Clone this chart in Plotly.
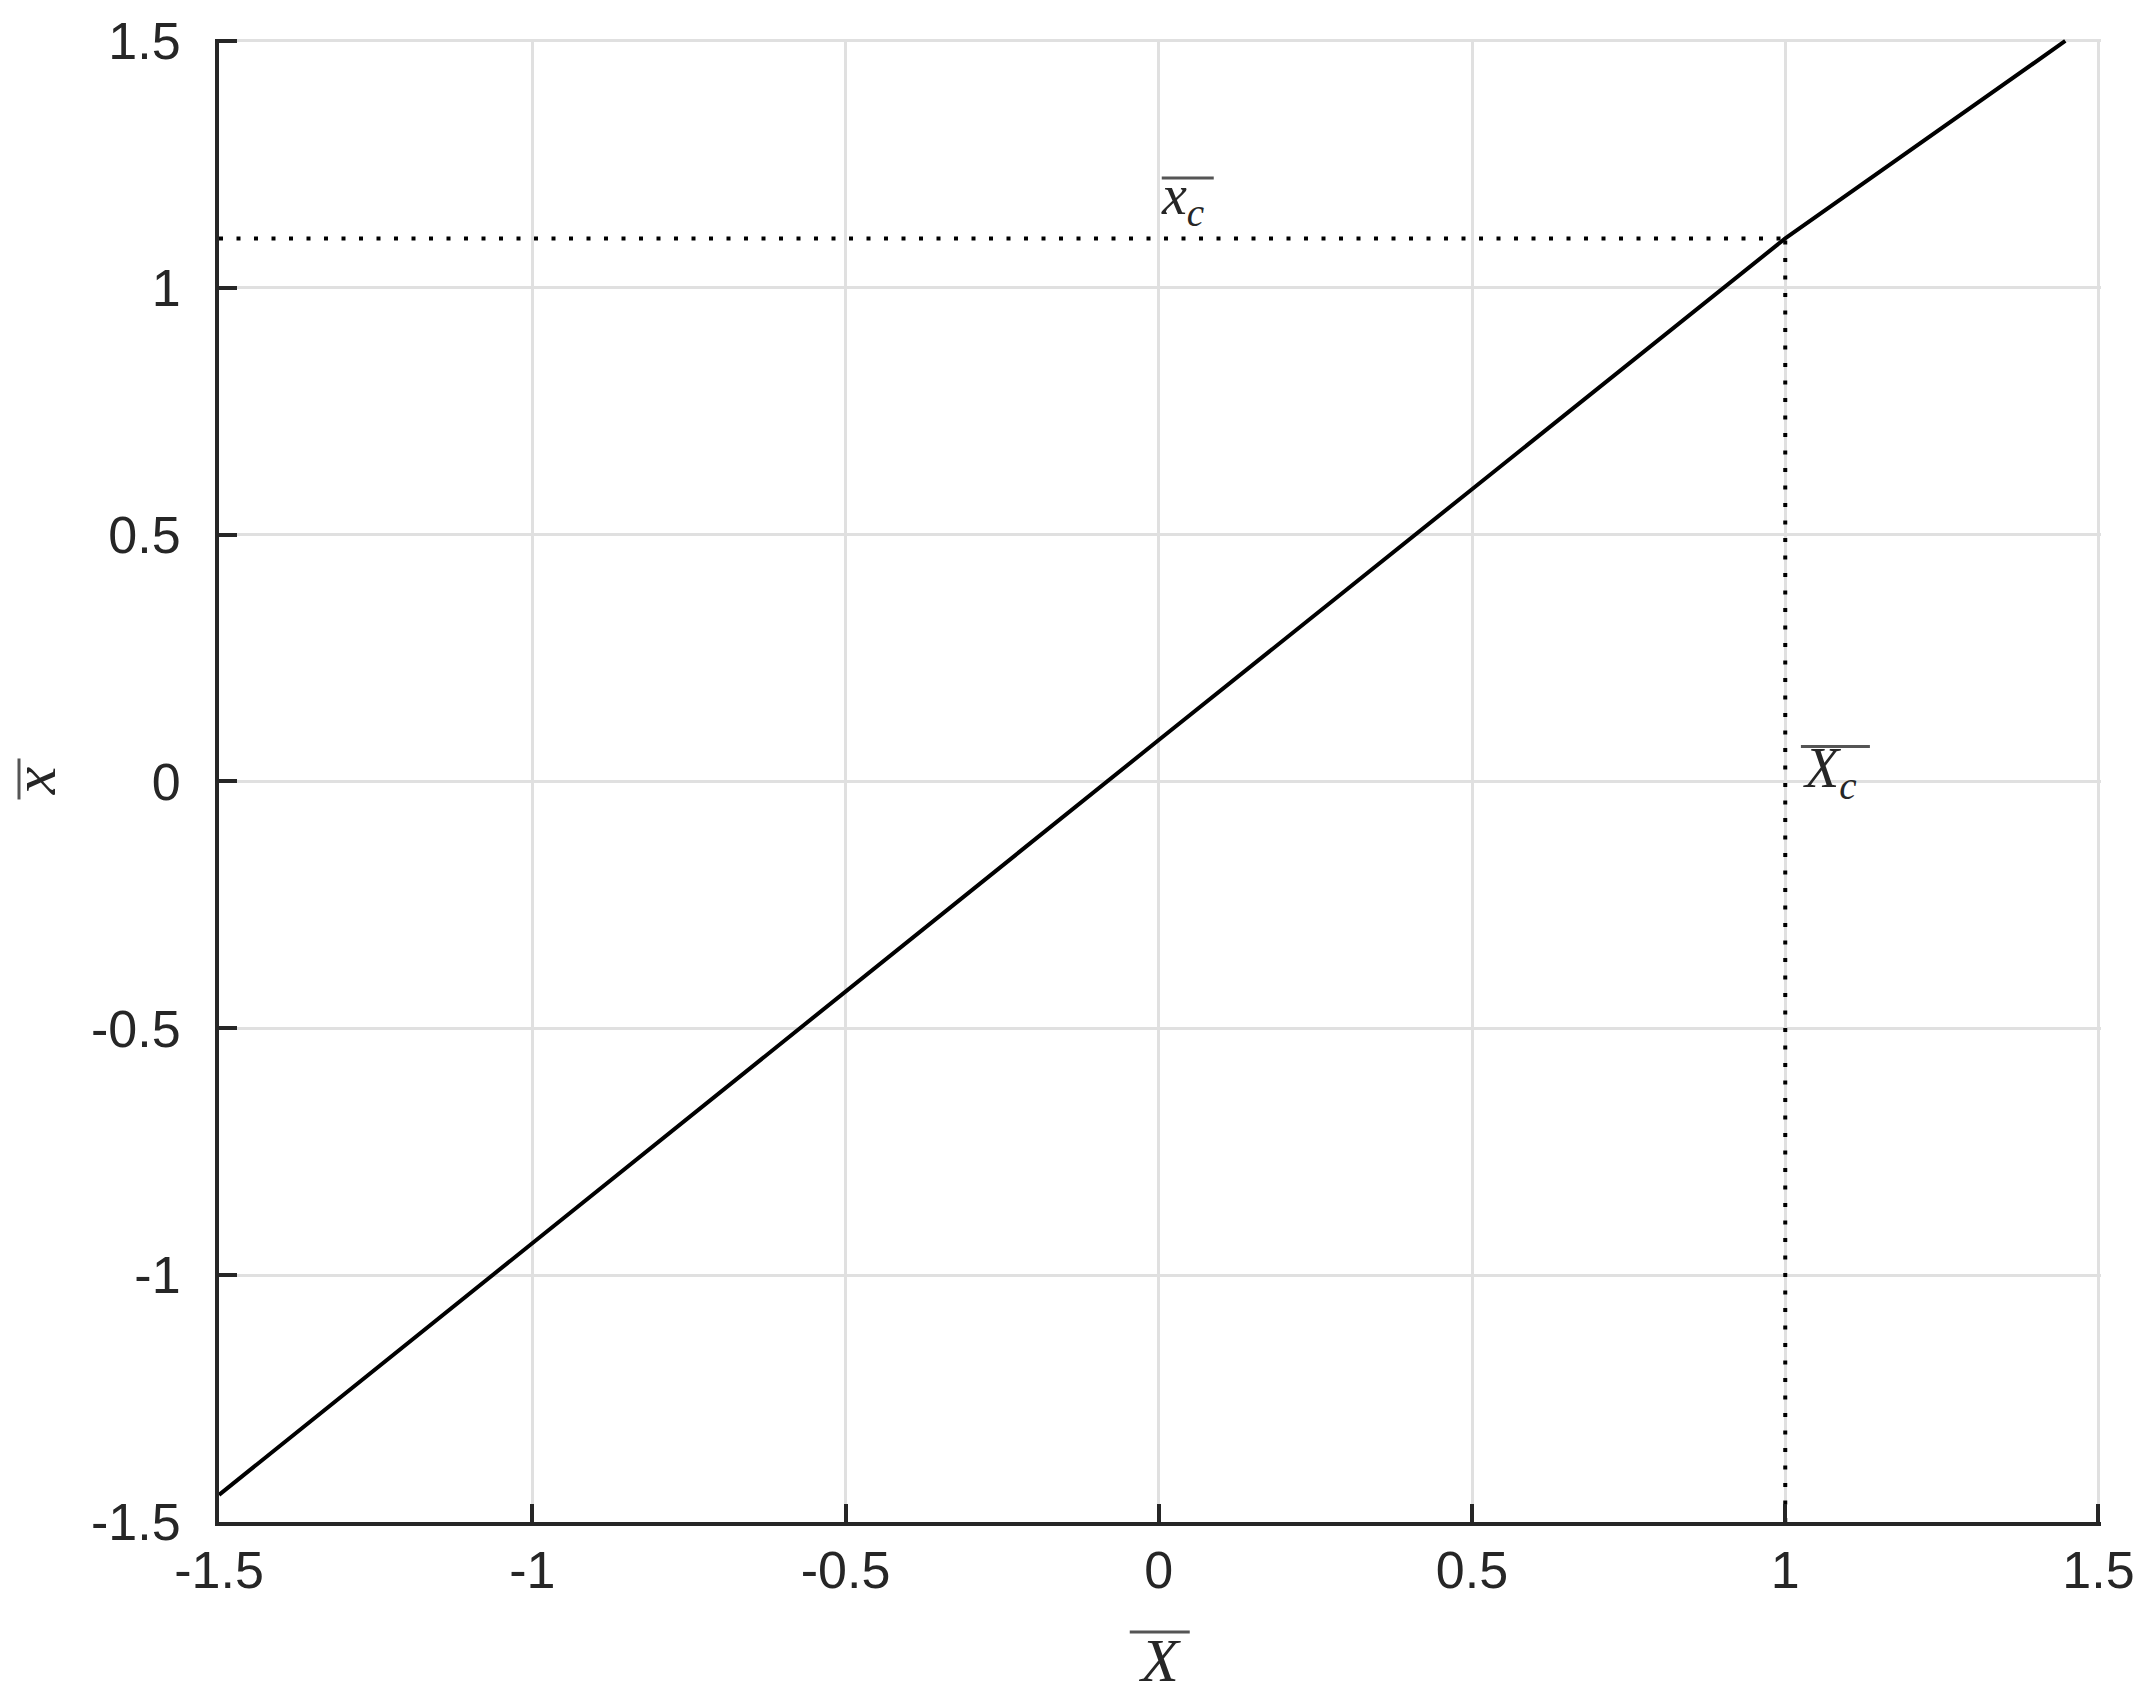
import plotly.graph_objects as go

# Data
X_bar = [-1.5, -1.0, -0.5, 0.0, 0.5, 1.0, 1.447]
x_bar = [-1.445, -0.935, -0.425, 0.084, 0.592, 1.1, 1.5]

Xc = 1.0
xc = 1.1
axis_min = -1.5

tick_vals = [-1.5, -1.0, -0.5, 0.0, 0.5, 1.0, 1.5]
tick_text = ["-1.5", "-1", "-0.5", "0", "0.5", "1", "1.5"]

# label anchors (data coords)
lab_xc_pos = (0.0, 1.18)
lab_Xc_pos = (1.025, 0.02)

ink = "#262626"
grid = "#e0e0e0"
dots = "4px,13.5px"

fig = go.Figure()
fig.add_trace(go.Scatter(x=X_bar, y=x_bar, mode="lines",
                         line=dict(color="black", width=4), showlegend=False))
fig.add_trace(go.Scatter(x=[axis_min, Xc], y=[xc, xc], mode="lines",
                         line=dict(color="black", width=4, dash=dots), showlegend=False))
fig.add_trace(go.Scatter(x=[Xc, Xc], y=[axis_min, xc], mode="lines",
                         line=dict(color="black", width=4, dash=dots), showlegend=False))

lab_font = dict(family="Liberation Serif", size=56, color=ink)
fig.add_annotation(x=lab_xc_pos[0], y=lab_xc_pos[1], xref="x", yref="y",
                   xanchor="left", yanchor="middle",
                   text="<i>x<sub>c</sub></i>", showarrow=False, font=lab_font)
fig.add_annotation(x=lab_Xc_pos[0], y=lab_Xc_pos[1], xref="x", yref="y",
                   xanchor="left", yanchor="middle",
                   text="<i>X<sub>c</sub></i>", showarrow=False, font=lab_font)

# overlines (text decoration) anchored at the labels, offsets in pixels
bar_line = dict(color="#555555", width=3)
fig.add_shape(type="line", xref="x", yref="y", xsizemode="pixel", ysizemode="pixel",
              xanchor=lab_xc_pos[0], yanchor=lab_xc_pos[1],
              x0=3, x1=55, y0=21, y1=21, line=bar_line)
fig.add_shape(type="line", xref="x", yref="y", xsizemode="pixel", ysizemode="pixel",
              xanchor=lab_Xc_pos[0], yanchor=lab_Xc_pos[1],
              x0=0, x1=69, y0=25, y1=25, line=bar_line)

axis_common = dict(
    tickvals=tick_vals, ticktext=tick_text,
    showgrid=True, gridcolor=grid, gridwidth=3,
    showline=True, linecolor=ink, linewidth=4, mirror=False,
    ticks="inside", ticklen=18, tickwidth=4, tickcolor=ink,
    zeroline=False,
    tickfont=dict(family="Liberation Sans", size=52, color=ink),
)

fig.update_xaxes(**axis_common, range=[-1.5, 1.504],
                 title=dict(text="<i>X</i>",
                            font=dict(family="Liberation Serif", size=62, color=ink), standoff=40))
fig.update_yaxes(**axis_common, range=[-1.5, 1.504], ticklabelstandoff=24,
                 title=dict(text="<i>x</i>",
                            font=dict(family="Liberation Serif", size=62, color=ink), standoff=30))

# overlines for the axis titles
fig.add_shape(type="line", xref="x", yref="paper", xsizemode="pixel", ysizemode="pixel",
              xanchor=0.0, yanchor=0, x0=-29, x1=31, y0=-110, y1=-110, line=bar_line)
fig.add_shape(type="line", xref="paper", yref="y", xsizemode="pixel", ysizemode="pixel",
              xanchor=0, yanchor=0.0, x0=-200, x1=-200, y0=-18, y1=23, line=bar_line)

fig.update_layout(
    width=2153, height=1702,
    margin=dict(l=219, r=52, t=37, b=180),
    paper_bgcolor="white", plot_bgcolor="white",
    showlegend=False,
)

fig.write_html("out.html", config={"displayModeBar": False},
               post_script="document.body.style.margin='0';")
